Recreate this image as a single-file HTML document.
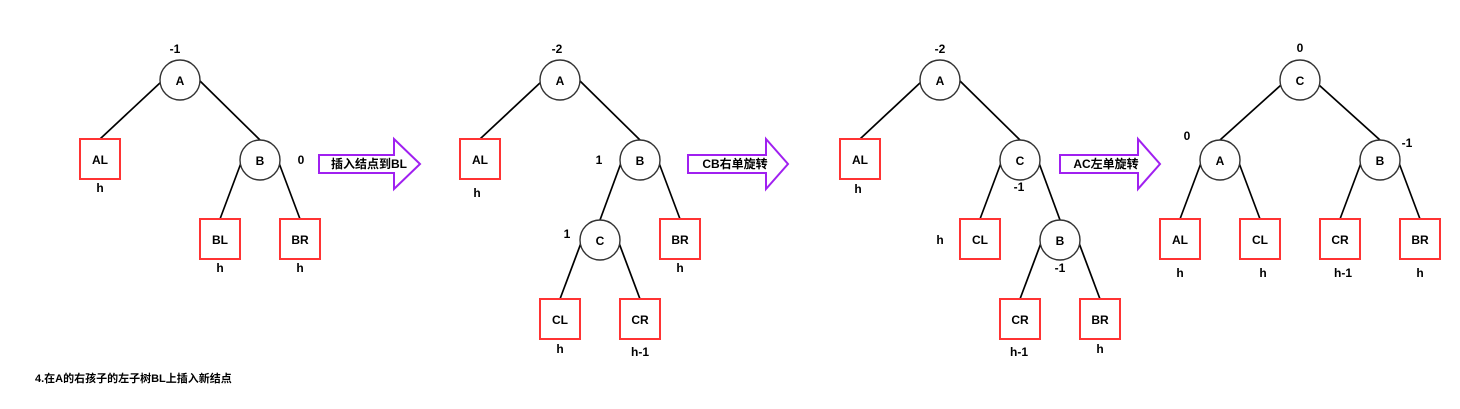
<!DOCTYPE html>
<html><head><meta charset="utf-8"><style>
body{margin:0;background:#fff;width:1460px;height:404px;overflow:hidden}
svg text{font-family:"Liberation Sans","Noto Sans CJK SC",sans-serif;font-weight:bold;font-size:12px;fill:#000}
</style></head><body>
<svg width="1460" height="404" viewBox="0 0 1460 404" xmlns="http://www.w3.org/2000/svg">
<g stroke="#000" stroke-width="1.7" fill="none">
<line x1="161" y1="82" x2="100" y2="139"/><line x1="199" y1="80" x2="260" y2="140"/>
<line x1="241" y1="163" x2="220" y2="219"/><line x1="279" y1="163" x2="300" y2="219"/>
<line x1="541" y1="82" x2="480" y2="139"/><line x1="579" y1="80" x2="640" y2="140"/>
<line x1="621" y1="163" x2="600" y2="220"/><line x1="659" y1="163" x2="680" y2="219"/>
<line x1="581" y1="243" x2="560" y2="299"/><line x1="619" y1="243" x2="640" y2="299"/>
<line x1="921" y1="82" x2="860" y2="139"/><line x1="959" y1="80" x2="1020" y2="140"/>
<line x1="1001" y1="163" x2="980" y2="219"/><line x1="1039" y1="163" x2="1060" y2="220"/>
<line x1="1041" y1="243" x2="1020" y2="299"/><line x1="1079" y1="243" x2="1100" y2="299"/>
<line x1="1281" y1="85" x2="1220" y2="140"/><line x1="1319" y1="85" x2="1380" y2="140"/>
<line x1="1201" y1="163" x2="1180" y2="219"/><line x1="1239" y1="163" x2="1260" y2="219"/>
<line x1="1361" y1="163" x2="1340" y2="219"/><line x1="1399" y1="163" x2="1420" y2="219"/>
</g>
<g stroke="#333" stroke-width="1.4" fill="#fff">
<circle cx="180" cy="80" r="20"/><circle cx="260" cy="160" r="20"/>
<circle cx="560" cy="80" r="20"/><circle cx="640" cy="160" r="20"/><circle cx="600" cy="240" r="20"/>
<circle cx="940" cy="80" r="20"/><circle cx="1020" cy="160" r="20"/><circle cx="1060" cy="240" r="20"/>
<circle cx="1300" cy="80" r="20"/><circle cx="1220" cy="160" r="20"/><circle cx="1380" cy="160" r="20"/>
</g>
<g stroke="#f33" stroke-width="2" fill="#fff">
<rect x="80" y="139" width="40" height="40"/><rect x="200" y="219" width="40" height="40"/><rect x="280" y="219" width="40" height="40"/>
<rect x="460" y="139" width="40" height="40"/><rect x="660" y="219" width="40" height="40"/><rect x="540" y="299" width="40" height="40"/><rect x="620" y="299" width="40" height="40"/>
<rect x="840" y="139" width="40" height="40"/><rect x="960" y="219" width="40" height="40"/><rect x="1000" y="299" width="40" height="40"/><rect x="1080" y="299" width="40" height="40"/>
<rect x="1160" y="219" width="40" height="40"/><rect x="1240" y="219" width="40" height="40"/><rect x="1320" y="219" width="40" height="40"/><rect x="1400" y="219" width="40" height="40"/>
</g>
<g stroke="#a020f0" stroke-width="2" fill="#fff">
<polygon points="319,155 394,155 394,139 420,164 394,189 394,173 319,173"/>
<polygon points="688,155 766,155 766,139 788,164 766,189 766,173 688,173"/>
<polygon points="1060,155 1138,155 1138,139 1160,164 1138,189 1138,173 1060,173"/>
</g>
<g text-anchor="middle">
<text x="180" y="85">A</text><text x="260" y="165">B</text><text x="100" y="164">AL</text><text x="220" y="244">BL</text><text x="300" y="244">BR</text>
<text x="560" y="85">A</text><text x="640" y="165">B</text><text x="600" y="245">C</text><text x="480" y="164">AL</text><text x="680" y="244">BR</text><text x="560" y="324">CL</text><text x="640" y="324">CR</text>
<text x="940" y="85">A</text><text x="1020" y="165">C</text><text x="1060" y="245">B</text><text x="860" y="164">AL</text><text x="980" y="244">CL</text><text x="1020" y="324">CR</text><text x="1100" y="324">BR</text>
<text x="1300" y="85">C</text><text x="1220" y="165">A</text><text x="1380" y="165">B</text><text x="1180" y="244">AL</text><text x="1260" y="244">CL</text><text x="1340" y="244">CR</text><text x="1420" y="244">BR</text>
<text x="175" y="53">-1</text><text x="301" y="164">0</text><text x="100" y="192">h</text><text x="220" y="272">h</text><text x="300" y="272">h</text>
<text x="557" y="53">-2</text><text x="599" y="164">1</text><text x="567" y="238">1</text><text x="477" y="197">h</text><text x="680" y="272">h</text><text x="560" y="353">h</text><text x="640" y="356">h-1</text>
<text x="940" y="53">-2</text><text x="858" y="193">h</text><text x="1019" y="191">-1</text><text x="940" y="244">h</text><text x="1060" y="272">-1</text><text x="1019" y="356">h-1</text><text x="1100" y="353">h</text>
<text x="1300" y="52">0</text><text x="1187" y="140">0</text><text x="1407" y="147">-1</text><text x="1180" y="277">h</text><text x="1263" y="277">h</text><text x="1343" y="277">h-1</text><text x="1420" y="277">h</text>
<text x="369" y="168">插入结点到BL</text><text x="735" y="168">CB右单旋转</text><text x="1106" y="168">AC左单旋转</text>
</g>
<text x="35" y="382" style="font-size:11px">4.在A的右孩子的左子树BL上插入新结点</text>
</svg>
</body></html>
